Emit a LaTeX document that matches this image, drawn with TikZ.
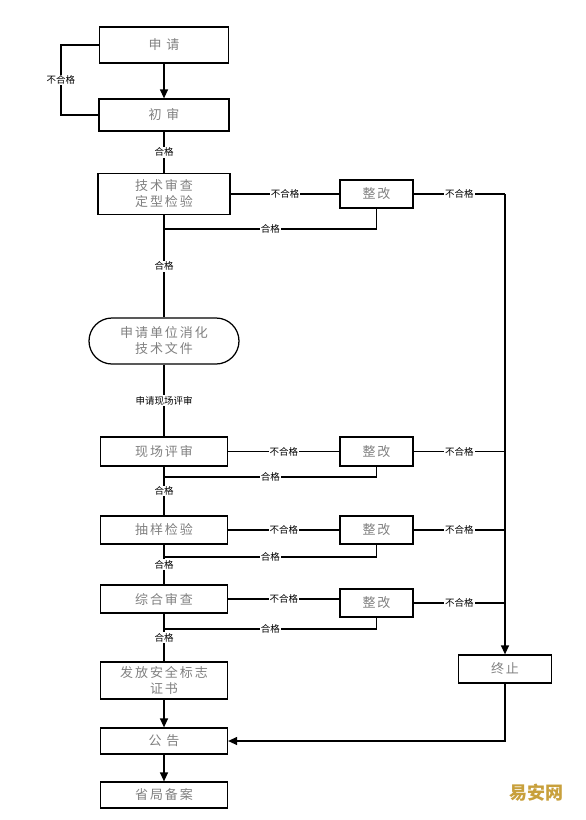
\documentclass[tikz,border=0pt]{standalone}
\usepackage{fontspec}
\setmainfont{Noto Sans CJK SC}
\newfontfamily\boxfont[LetterSpace=15]{Noto Sans CJK SC}
\usetikzlibrary{arrows.meta}
\begin{document}
\begin{tikzpicture}[x=1pt,y=-1pt,line width=1.25pt,
    box/.style={draw,rectangle,minimum width=127pt,minimum height=28pt,inner sep=1pt,
      align=center,text=gray,font=\boxfont\fontsize{13}{16}\selectfont},
    fix/.style={box,minimum width=73pt},
    lbl/.style={fill=white,inner sep=1pt,text=black,font=\fontsize{9.5}{10}\selectfont},
    >={Triangle[length=9pt,width=8pt]}]
    \useasboundingbox (0,0) rectangle (586,820);
    \node[box,minimum width=129pt,minimum height=36pt] (n1) at (164,45) {申 请};
    \node[box,minimum width=130pt,minimum height=32pt] (n2) at (164,115) {初 审};
    \node[box,minimum width=132pt,minimum height=41pt] (n3) at (164,194) {技术审查\\定型检验};
    \node[box,minimum width=150pt,minimum height=46pt,rounded corners=23pt] (n4) at (164,341) {申请单位消化\\技术文件};
    \node[box,minimum height=29pt] (n5) at (164,451.5) {现场评审};
    \node[box] (n6) at (164,530) {抽样检验};
    \node[box] (n7) at (164,599) {综合审查};
    \node[box,minimum height=37pt] (n8) at (164,680.5) {发放安全标志\\证书};
    \node[box,minimum height=26pt] (n9) at (164,741) {公 告};
    \node[box,minimum height=26pt] (n10) at (164,795) {省局备案};
    \node[fix] (z1) at (376.5,194) {整改};
    \node[fix,minimum height=29pt] (z2) at (376.5,451.5) {整改};
    \node[fix] (z3) at (376.5,530) {整改};
    \node[fix] (z4) at (376.5,603) {整改};
    \node[box,minimum width=93pt] (t) at (505,669) {终止};
    \coordinate (r1) at (505,194);
    \coordinate (j1) at (164,229);
    \coordinate (j2) at (164,477);
    \coordinate (j3) at (164,557);
    \coordinate (j4) at (164,629);
    % main line
    \draw [->] (n1) -- (n2);
    \draw (n1.west) -- ++(-38,0) |- node[lbl,pos=.25] {不合格} (n2.west);
    \draw (n2) -- node[lbl] {合格} (n3);
    \draw (n3) -- node[lbl] {合格} (n4);
    \draw (n4) -- node[lbl] {申请现场评审} (n5);
    \draw (n5) -- node[lbl] {合格} (n6);
    \draw (n6) -- node[lbl] {合格} (n7);
    \draw (n7) -- node[lbl] {合格} (n8);
    \draw [->] (n8) -- (n9);
    \draw [->] (n9) -- (n10);
    % rework loops
    \draw (n3) -- node[lbl] {不合格} (z1);
    \draw (n5) -- node[lbl] {不合格} (z2);
    \draw (n6) -- node[lbl] {不合格} (z3);
    \draw (n7.east) -- node[lbl] {不合格} (n7.east -| z4.west);
    \draw (z1) -- node[lbl] {不合格} (r1);
    \draw (z2) -- node[lbl] {不合格} (z2 -| r1);
    \draw (z3) -- node[lbl] {不合格} (z3 -| r1);
    \draw (z4) -- node[lbl] {不合格} (z4 -| r1);
    \draw (z1.south) |- node[lbl,pos=.75] {合格} (j1);
    \draw (z2.south) |- node[lbl,pos=.75] {合格} (j2);
    \draw (z3.south) |- node[lbl,pos=.75] {合格} (j3);
    \draw (z4.south) |- node[lbl,pos=.75] {合格} (j4);
    \draw [->] (r1) -- (t);
    \draw [->] (t.south) |- (n9.east);
    \node[text={rgb,255:red,200;green,160;blue,60},font=\bfseries\fontsize{18}{20}\selectfont] (wm) at (536,793) {易安网};
\end{tikzpicture}
\end{document}
